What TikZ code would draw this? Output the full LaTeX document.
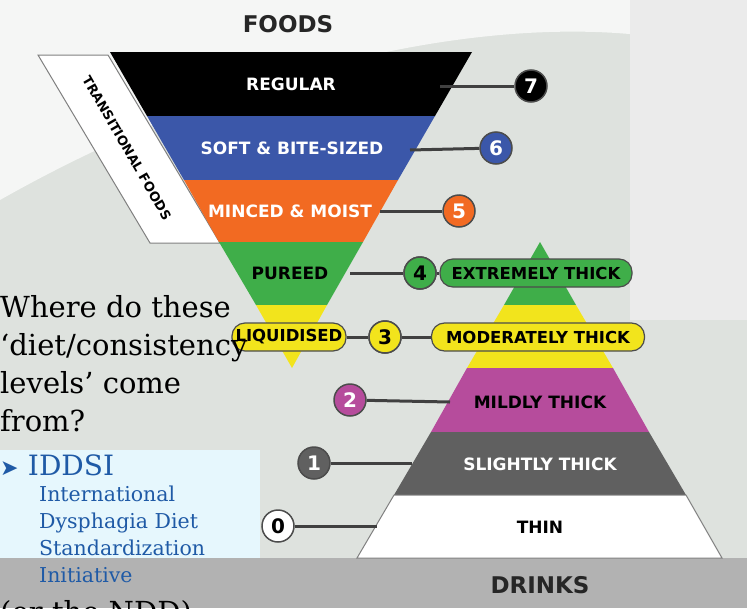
\documentclass[tikz,border=0pt]{standalone}
\usepackage{fontspec}
\setmainfont{DejaVu Serif}
\newfontfamily\lab{DejaVu Sans}
\usetikzlibrary{calc}
\definecolor{cblue}{HTML}{3B57A9}
\definecolor{corange}{HTML}{F26A22}
\definecolor{cgreen}{HTML}{3FAE49}
\definecolor{cyellow}{HTML}{F2E41C}
\definecolor{cmag}{HTML}{B64C9C}
\definecolor{cgrey}{HTML}{606060}
\definecolor{bg}{HTML}{DEE2DE}
\definecolor{txtblue}{HTML}{1F5AA6}
\tikzset{
 band/.style={draw=none},
 blab/.style={font=\lab\bfseries\fontsize{17}{17}\selectfont,text=white},
 pill/.style={draw=black!70,line width=1.2pt,rounded corners=13pt,minimum height=28pt,font=\lab\bfseries\fontsize{16.5}{16.5}\selectfont},
 num/.style={circle,draw=black!70,line width=1.5pt,minimum size=32pt,inner sep=0pt,font=\lab\bfseries\fontsize{20}{20}\selectfont},
 conn/.style={line width=3pt,draw=black!75},
}
\begin{document}
\begin{tikzpicture}[x=1pt,y=-1pt]
\useasboundingbox (0,0) rectangle (747,608);
\clip (0,0) rectangle (747,608);
\fill[bg] (0,0) rectangle (747,608);
\fill[white!70!bg] (0,200) .. controls (300,30) and (600,0) .. (747,60) -- (747,0) -- (0,0) -- cycle;
\fill[black!8] (630,0) rectangle (747,320);
\fill[cyan!10] (0,450) rectangle (260,560);
\fill[black!30] (0,558) rectangle (747,608);
\node[font=\lab\bfseries\fontsize{23}{23}\selectfont,text=black!85] (foods) at (288,24) {FOODS};
\node[font=\lab\bfseries\fontsize{23}{23}\selectfont,text=black!85] (drinks) at (540,585) {DRINKS};
% transitional
\draw[fill=white,draw=black!50,line width=1pt] (38,55) -- (108,55) -- (220,243) -- (150,243) -- cycle;
\node[rotate=-60,font=\lab\bfseries\fontsize{13}{13}\selectfont] (trans) at (127,148) {TRANSITIONAL FOODS};
% foods triangle
\fill[black] (110,52) -- (472,52) -- (435,116) -- (147,116) -- cycle;
\fill[cblue] (147,116) -- (435,116) -- (398,180) -- (184,180) -- cycle;
\fill[corange] (184,180) -- (398,180) -- (363,242) -- (219,242) -- cycle;
\fill[cgreen] (219,242) -- (363,242) -- (327,305) -- (256,305) -- cycle;
\fill[cyellow] (256,305) -- (327,305) -- (292,368) -- cycle;
% drinks triangle
\fill[cgreen] (540,242) -- (576,305) -- (504,305) -- cycle;
\fill[cyellow] (504,305) -- (576,305) -- (613,368) -- (467,368) -- cycle;
\fill[cmag] (467,368) -- (613,368) -- (649,432) -- (431,432) -- cycle;
\fill[cgrey] (431,432) -- (649,432) -- (686,495) -- (394,495) -- cycle;
\draw[fill=white,draw=black!50,line width=1pt] (394,495) -- (686,495) -- (722,558) -- (357,558) -- cycle;
% connectors and numbers
\node[num,fill=black,text=white] (n7) at (531,86) {7};
\node[num,fill=cblue,text=white] (n6) at (496,148) {6};
\node[num,fill=corange,text=white] (n5) at (459,211) {5};
\node[num,fill=cgreen,text=black] (n4) at (420,273) {4};
\node[num,fill=cyellow,text=black] (n3) at (385,337) {3};
\node[num,fill=cmag,text=white] (n2) at (350,400) {2};
\node[num,fill=cgrey,text=white] (n1) at (314,463) {1};
\node[num,fill=white,text=black] (n0) at (278,526) {0};
\coordinate (e7) at (440,86);
\coordinate (e6) at (410,150);
\coordinate (e5) at (380,211);
\coordinate (e4) at (350,273);
\coordinate (e2) at (450,402);
\coordinate (e1) at (412,463);
\coordinate (e0) at (377,526);
\draw[conn] (e7) -- (n7); \draw[conn] (e6) -- (n6); \draw[conn] (e5) -- (n5);
\draw[conn] (e4) -- (n4); \draw[conn] (n2) -- (e2); \draw[conn] (n1) -- (e1); \draw[conn] (n0) -- (e0);
\node[pill,fill=cgreen,minimum width=192pt] (ext) at (536,273) {EXTREMELY THICK};
\node[pill,fill=cyellow,minimum width=213pt] (mod) at (538,337) {MODERATELY THICK};
\node[pill,fill=cyellow,minimum width=114pt] (liq) at (289,337) {LIQUIDISED};
\draw[conn] (n4) -- (ext); \draw[conn] (liq) -- (n3); \draw[conn] (n3) -- (mod);
\node[num,fill=cgreen,text=black] at (n4) {4};
\node[num,fill=cyellow,text=black] at (n3) {3};
% labels
\node[blab] (l7) at (291,84) {REGULAR};
\node[blab] (l6) at (292,148) {SOFT \& BITE-SIZED};
\node[blab] (l5) at (290,211) {MINCED \& MOIST};
\node[blab,text=black] (l4) at (290,273) {PUREED};
\node[blab,text=black] (l2) at (540,402) {MILDLY THICK};
\node[blab] (l1) at (540,464) {SLIGHTLY THICK};
\node[blab,text=black] (l0) at (540,527) {THIN};
% overlay text
\node[anchor=north west,align=left,inner sep=0pt,font=\fontsize{29}{38}\selectfont] (q) at (0,295) {Where do these\\‘diet/consistency\\levels’ come\\from?};
\node[anchor=west,inner sep=0pt,text=txtblue,font=\fontsize{28}{28}\selectfont] (id) at (0,465) {{\lab\fontsize{22}{22}\selectfont ➤}\,\,IDDSI};
\node[anchor=north west,align=left,inner sep=0pt,text=txtblue,font=\fontsize{20.5}{27}\selectfont] (idf) at (39,486) {International\\Dysphagia Diet\\Standardization\\Initiative};
\node[anchor=west,inner sep=0pt,font=\fontsize{29}{29}\selectfont] (ndd) at (0,614) {(or the NDD)};
\end{tikzpicture}
\end{document}
